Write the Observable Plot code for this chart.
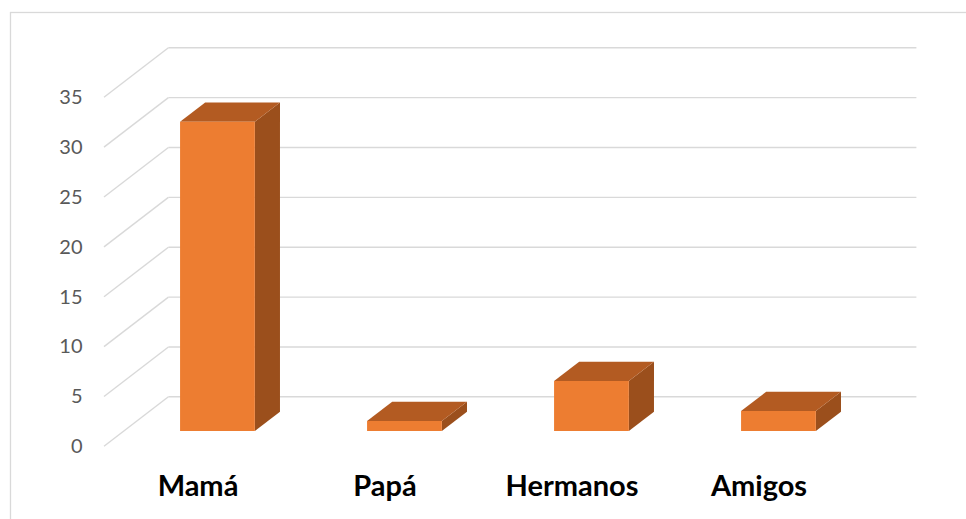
<!DOCTYPE html>
<html>
<head>
<meta charset="utf-8">
<script src="https://cdn.jsdelivr.net/npm/d3@7"></script>
<script src="https://cdn.jsdelivr.net/npm/@observablehq/plot@0.6"></script>
<style>
  html, body { margin: 0; padding: 0; background: #fff; }
  #chart svg { display: block; }
</style>
</head>
<body>
<div id="chart"></div>
<script>
// Data
const categories = ["Mamá", "Papá", "Hermanos", "Amigos"];
const values = [31, 1, 5, 2];
const yTicks = [0, 5, 10, 15, 20, 25, 30, 35];

const data = categories.map((c, i) => ({cat: c, value: values[i]}));

// 3D geometry (oblique projection of the depth axis)
const depth = [64.4, -49.5];     // offset from front plane to back wall
const barFront = 0.31, barBack = 0.70; // bar depth fractions
const barWidthFrac = 0.4;        // bar width relative to band step

const front = "#ED7D31", topC = "#B35B22", sideC = "#9B4F1C", grid = "#D9D9D9";

function gridRender(index, scales, vals, dims) {
  const g = d3.create("svg:g");
  const [r0, r1] = scales.x.range ? scales.x.range() : [102.6, 853.3];
  const xs = categories.map(c => scales.x(c));
  const bw = scales.x.bandwidth ? scales.x.bandwidth() : (r1 - r0) / categories.length;
  const left = Math.min(...xs), right = Math.max(...xs) + bw;
  for (const t of yTicks) {
    const y = scales.y(t);
    // back wall line
    g.append("line")
      .attr("x1", left + depth[0]).attr("x2", right + depth[0])
      .attr("y1", y + depth[1]).attr("y2", y + depth[1])
      .attr("stroke", grid).attr("stroke-width", 1.4);
    // side wall diagonal
    g.append("line")
      .attr("x1", left).attr("x2", left + depth[0])
      .attr("y1", y).attr("y2", y + depth[1])
      .attr("stroke", grid).attr("stroke-width", 1.4);
  }
  return g.node();
}

function barRender(index, scales, vals, dims) {
  const g = d3.create("svg:g");
  const bwBand = scales.x.bandwidth();
  const bw = bwBand * barWidthFrac;
  const fx = depth[0] * barFront, fy = depth[1] * barFront;
  const bx = depth[0] * barBack, by = depth[1] * barBack;
  for (const i of index) {
    const d = data[i];
    const x0 = scales.x(d.cat) + (bwBand - bw) / 2, x1 = x0 + bw;
    const y0 = scales.y(0), y1 = scales.y(d.value);
    // side face
    g.append("path")
      .attr("d", `M${x1+fx},${y1+fy}L${x1+bx},${y1+by}L${x1+bx},${y0+by}L${x1+fx},${y0+fy}Z`)
      .attr("fill", sideC);
    // top face
    g.append("path")
      .attr("d", `M${x0+fx},${y1+fy}L${x0+bx},${y1+by}L${x1+bx},${y1+by}L${x1+fx},${y1+fy}Z`)
      .attr("fill", topC);
    // front face
    g.append("path")
      .attr("d", `M${x0+fx},${y1+fy}L${x1+fx},${y1+fy}L${x1+fx},${y0+fy}L${x0+fx},${y0+fy}Z`)
      .attr("fill", front);
  }
  return g.node();
}

const chart = Plot.plot({
  width: 966,
  height: 519,
  marginLeft: 10,
  marginTop: 12,
  marginRight: 0,
  marginBottom: 0,
  style: {fontFamily: "Lato, 'Open Sans', sans-serif", background: "#fff"},
  x: {type: "band", domain: categories, range: [102.6, 853.3], padding: 0, axis: null},
  y: {type: "linear", domain: [0, 35], range: [446.3, 97.3], axis: null},
  marks: [
    Plot.frame({stroke: grid, strokeWidth: 1.3, insetRight: -5, insetBottom: -5}),
    Plot.ruleY(yTicks, {y: d => d, render: gridRender}),
    Plot.barY(data, {x: "cat", y: "value", render: barRender}),
    Plot.text(yTicks, {
      y: d => d, text: d => String(d), frameAnchor: "left", textAnchor: "end",
      dx: 72, fontSize: 20, fill: "#595959"
    }),
    Plot.text(categories, {
      x: d => d, text: d => d, frameAnchor: "bottom", lineAnchor: "middle",
      dy: -33, fontSize: 29, fontWeight: "bold", fill: "#000"
    })
  ]
});

document.getElementById("chart").append(chart);
</script>
</body>
</html>
